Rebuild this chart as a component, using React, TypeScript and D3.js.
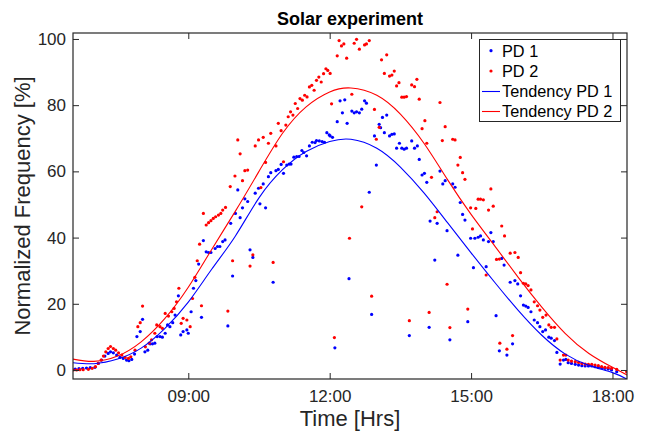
import React, { useEffect, useRef } from "react";
import * as d3 from "d3";

// PD 1 samples: [time of day in hours, normalized frequency %]
const pd1: [number, number][] = [
  [6.6, 0.3], [6.68, 0.4], [6.76, 0.5], [6.84, 0.6], [6.92, 0.7], [7.02, 0.8],
  [7.09, 2.0], [7.16, 3.0], [7.23, 4.2], [7.3, 5.0], [7.35, 5.5], [7.41, 5.2],
  [7.48, 4.5], [7.55, 3.8], [7.62, 3.5], [7.69, 3.0], [7.74, 2.8], [7.8, 3.2],
  [7.86, 4.8], [7.91, 10.1], [7.98, 11.6], [8.03, 15.3], [8.08, 5.5], [8.14, 6.0],
  [8.19, 7.9], [8.24, 7.9], [8.29, 8.1], [8.34, 10.1], [8.4, 10.1], [8.45, 9.9],
  [8.51, 11.1], [8.56, 13.6], [8.61, 13.1], [8.67, 14.3], [8.72, 16.6], [8.79, 22.4],
  [8.84, 10.6], [8.89, 11.6], [8.97, 12.1], [9.0, 11.1], [9.06, 17.6], [9.11, 24.7],
  [9.16, 27.0], [9.22, 32.0], [9.28, 15.9], [9.32, 39.1], [9.38, 35.7], [9.43, 35.5],
  [9.48, 35.5], [9.57, 36.7], [9.62, 37.3], [9.67, 37.3], [9.73, 38.8], [9.78, 39.3],
  [9.84, 13.3], [9.9, 44.3], [9.94, 28.4], [10.0, 47.3], [10.05, 54.4], [10.1, 46.0],
  [10.15, 49.0], [10.2, 51.7], [10.26, 50.9], [10.31, 36.3], [10.37, 34.0], [10.42, 53.4],
  [10.49, 54.9], [10.52, 50.2], [10.59, 56.2], [10.64, 49.0], [10.7, 58.4], [10.75, 59.6],
  [10.8, 26.5], [10.86, 60.2], [10.91, 60.6], [10.97, 62.1], [11.02, 59.4], [11.09, 61.9],
  [11.14, 62.2], [11.18, 62.2], [11.24, 64.3], [11.3, 64.5], [11.35, 64.5], [11.41, 66.3],
  [11.45, 65.7], [11.51, 64.7], [11.57, 67.7], [11.63, 68.8], [11.69, 68.7], [11.72, 69.3],
  [11.78, 69.2], [11.84, 69.0], [11.89, 68.8], [11.94, 71.7], [11.99, 71.0], [12.01, 70.7],
  [12.06, 70.3], [12.11, 6.7], [12.16, 75.0], [12.22, 81.3], [12.27, 77.7], [12.32, 81.6],
  [12.37, 74.5], [12.41, 27.6], [12.47, 78.2], [12.52, 77.7], [12.57, 78.0], [12.63, 77.7],
  [12.68, 78.8], [12.74, 81.3], [12.78, 80.6], [12.84, 53.7], [12.89, 16.8], [12.95, 70.7],
  [12.99, 61.9], [13.05, 74.2], [13.08, 73.2], [13.12, 76.3], [13.16, 71.7], [13.21, 77.0],
  [13.27, 70.7], [13.32, 71.2], [13.37, 71.3], [13.42, 67.0], [13.48, 68.5], [13.53, 67.0],
  [13.58, 66.7], [13.63, 67.0], [13.69, 10.4], [13.74, 69.2], [13.8, 67.0], [13.86, 67.7],
  [13.9, 63.6], [13.96, 58.9], [14.01, 59.4], [14.06, 56.7], [14.11, 12.9], [14.13, 45.0],
  [14.23, 33.2], [14.28, 44.3], [14.34, 60.1], [14.4, 56.2], [14.45, 57.2], [14.49, 42.1],
  [14.55, 9.1], [14.61, 56.2], [14.66, 55.2], [14.72, 34.7], [14.77, 50.6], [14.82, 47.0],
  [14.87, 45.3], [14.93, 14.6], [14.99, 39.8], [15.05, 30.9], [15.08, 39.8], [15.15, 40.1],
  [15.2, 40.5], [15.26, 39.3], [15.32, 31.2], [15.37, 38.8], [15.42, 41.5], [15.47, 38.8],
  [15.53, 16.4], [15.6, 5.8], [15.65, 33.7], [15.7, 31.7], [15.76, 4.5], [15.83, 26.5],
  [15.88, 7.9], [15.93, 27.0], [15.99, 26.0], [16.05, 22.4], [16.11, 19.6], [16.16, 19.3],
  [16.21, 18.9], [16.27, 17.6], [16.34, 15.1], [16.41, 14.3], [16.46, 13.1], [16.52, 11.6],
  [16.58, 12.1], [16.65, 9.9], [16.7, 9.6], [16.77, 8.9], [16.82, 5.3], [16.89, 1.8],
  [16.96, 3.0], [17.01, 3.2], [17.06, 2.2], [17.13, 2.0], [17.21, 1.7], [17.28, 1.5],
  [17.35, 1.3], [17.42, 1.2], [17.49, 1.2], [17.56, 1.2], [17.63, 1.0], [17.7, 0.8],
  [17.77, 0.7], [17.84, 0.5], [17.91, 0.3], [17.98, 0.0], [18.09, -0.5],
];

// PD 2 samples
const pd2: [number, number][] = [
  [6.56, 0.0], [6.63, 0.0], [6.7, 0.1], [6.77, 0.1], [6.88, 0.2], [6.96, 0.5],
  [7.03, 1.0], [7.09, 2.0], [7.15, 3.0], [7.2, 4.2], [7.25, 5.5], [7.3, 6.5],
  [7.35, 7.1], [7.41, 6.5], [7.46, 6.0], [7.52, 5.2], [7.59, 4.5], [7.66, 3.8],
  [7.73, 3.5], [7.78, 4.0], [7.87, 6.0], [7.93, 13.1], [7.98, 14.3], [8.03, 19.3],
  [8.09, 7.0], [8.17, 8.1], [8.22, 9.1], [8.29, 11.1], [8.33, 13.6], [8.4, 13.1],
  [8.45, 12.6], [8.51, 17.1], [8.58, 16.3], [8.65, 17.6], [8.7, 18.6], [8.75, 20.6],
  [8.8, 24.7], [8.85, 14.1], [8.89, 15.6], [8.97, 15.1], [9.04, 13.1], [9.09, 21.6],
  [9.14, 28.0], [9.19, 33.0], [9.24, 38.0], [9.28, 19.4], [9.32, 47.3], [9.38, 43.8],
  [9.43, 44.5], [9.48, 45.1], [9.53, 45.8], [9.58, 46.3], [9.64, 46.8], [9.69, 47.3],
  [9.73, 48.3], [9.79, 49.1], [9.84, 17.8], [9.89, 55.4], [9.94, 33.0], [9.99, 58.6],
  [10.05, 69.5], [10.1, 65.3], [10.15, 57.2], [10.2, 60.2], [10.26, 60.4], [10.31, 31.4],
  [10.37, 34.8], [10.42, 67.7], [10.49, 69.5], [10.54, 55.1], [10.59, 70.3], [10.64, 62.7],
  [10.7, 68.5], [10.75, 71.5], [10.8, 32.5], [10.86, 67.7], [10.91, 74.5], [10.97, 72.3],
  [11.02, 62.9], [11.07, 74.0], [11.12, 76.5], [11.17, 78.0], [11.22, 77.0], [11.27, 80.5],
  [11.32, 79.0], [11.37, 82.0], [11.42, 81.5], [11.47, 83.0], [11.52, 82.5], [11.57, 85.5],
  [11.62, 86.0], [11.67, 84.5], [11.72, 87.5], [11.77, 88.5], [11.82, 87.0], [11.87, 89.5],
  [11.92, 91.0], [11.96, 90.5], [12.01, 89.6], [12.04, 80.4], [12.1, 9.8], [12.16, 94.9],
  [12.2, 99.5], [12.25, 97.9], [12.3, 98.5], [12.36, 94.2], [12.42, 39.8], [12.47, 83.3],
  [12.52, 98.7], [12.57, 99.9], [12.63, 96.9], [12.68, 49.3], [12.74, 98.2], [12.78, 98.5],
  [12.84, 99.5], [12.89, 22.3], [12.95, 78.7], [12.99, 69.7], [13.05, 73.3], [13.1, 93.7],
  [13.16, 89.6], [13.21, 95.2], [13.27, 88.8], [13.32, 89.1], [13.37, 90.3], [13.42, 85.8],
  [13.47, 86.8], [13.53, 82.4], [13.58, 82.4], [13.63, 82.6], [13.69, 14.9], [13.74, 86.1],
  [13.8, 85.6], [13.85, 87.8], [13.9, 81.8], [13.96, 72.9], [14.02, 75.3], [14.06, 68.5],
  [14.11, 17.4], [14.16, 58.2], [14.23, 46.0], [14.28, 47.8], [14.34, 80.8], [14.39, 69.3],
  [14.45, 73.5], [14.49, 25.9], [14.55, 12.8], [14.61, 69.7], [14.66, 69.5], [14.72, 61.9],
  [14.77, 64.2], [14.82, 59.6], [14.87, 57.6], [14.93, 18.4], [14.99, 49.0], [15.03, 42.6],
  [15.1, 48.8], [15.15, 51.6], [15.2, 51.6], [15.26, 51.4], [15.32, 28.7], [15.37, 48.3],
  [15.42, 54.7], [15.47, 49.5], [15.54, 33.4], [15.6, 33.5], [15.61, 8.1], [15.65, 43.5],
  [15.71, 40.5], [15.76, 6.3], [15.83, 35.3], [15.88, 10.4], [15.93, 35.5], [16.0, 34.0],
  [16.05, 29.4], [16.11, 26.2], [16.16, 26.0], [16.21, 25.5], [16.27, 24.2], [16.34, 20.6],
  [16.41, 19.4], [16.46, 18.1], [16.52, 15.9], [16.59, 16.6], [16.65, 13.6], [16.7, 12.9],
  [16.77, 12.9], [16.82, 9.4], [16.89, 3.0], [16.96, 4.5], [17.01, 4.5], [17.06, 3.0],
  [17.13, 2.7], [17.21, 2.5], [17.28, 2.3], [17.35, 2.0], [17.42, 1.8], [17.49, 1.7],
  [17.56, 1.7], [17.63, 1.5], [17.7, 1.3], [17.77, 1.0], [17.84, 0.8], [17.91, 0.7],
  [17.98, 0.5], [18.09, 0.2], [18.3, -0.5],
];

// fitted tendency curves
const tendencyHours = [6.55, 7.0, 7.5, 8.0, 8.5, 9.0, 9.5, 10.0, 10.5, 11.0, 11.5, 12.0, 12.45,
  13.0, 13.5, 14.0, 14.5, 15.0, 15.5, 16.0, 16.5, 17.0, 17.5, 18.0, 18.31];
const tendency1 = [2.2, 1.9, 3.3, 6.6, 12.5, 20.5, 30.5, 40.5, 52.0, 60.5, 66.0, 69.0, 69.7,
  67.0, 61.3, 53.5, 44.5, 35.4, 26.5, 18.0, 10.5, 4.8, 1.4, -0.8, -2.8];
const tendency2 = [3.3, 2.6, 4.2, 8.5, 15.5, 25.0, 36.5, 48.0, 60.0, 71.5, 79.5, 84.0, 85.2,
  83.0, 77.3, 68.5, 57.5, 47.0, 37.5, 28.0, 19.0, 11.0, 5.0, 0.8, -1.5];

const xTicks = [9, 12, 15, 18];
const xTickLabels = ["09:00", "12:00", "15:00", "18:00"];
const yTicks = [0, 20, 40, 60, 80, 100];
const legendLabels = ["PD 1", "PD 2", "Tendency PD 1", "Tendency PD 2"];

const W = 648;
const H = 433;
const FONT = "'Liberation Sans', Arial, Helvetica, sans-serif";
const INK = "#262626";
const BLUE = "#0000ff";
const RED = "#ff0000";

const SolarChart = () => {
  const ref = useRef<SVGSVGElement>(null);

  useEffect(() => {
    const svg = d3.select(ref.current);
    svg.selectAll("*").remove();

    const left = 73, right = 627, top = 33, bottom = 379;

    const x = d3.scaleLinear().domain([6.554, 18.308]).range([left, right]);
    const y = d3.scaleLinear().domain([-2.72, 101.8]).range([bottom, top]);

    svg.append("rect").attr("width", W).attr("height", H).attr("fill", "#fff");

    svg.append("defs").append("clipPath").attr("id", "plot-clip")
      .append("rect").attr("x", left).attr("y", top)
      .attr("width", right - left).attr("height", bottom - top);

    const plot = svg.append("g").attr("clip-path", "url(#plot-clip)");

    // scatter
    plot.append("g").selectAll("circle").data(pd1).enter().append("circle")
      .attr("cx", (d) => x(d[0])).attr("cy", (d) => y(d[1]))
      .attr("r", 1.6).attr("fill", BLUE);
    plot.append("g").selectAll("circle").data(pd2).enter().append("circle")
      .attr("cx", (d) => x(d[0])).attr("cy", (d) => y(d[1]))
      .attr("r", 1.6).attr("fill", RED);

    // tendency lines
    const line = d3.line<number>()
      .x((_, i) => x(tendencyHours[i]))
      .y((d) => y(d))
      .curve(d3.curveNatural);
    plot.append("path").datum(tendency1).attr("d", line)
      .attr("fill", "none").attr("stroke", BLUE).attr("stroke-width", 1.1);
    plot.append("path").datum(tendency2).attr("d", line)
      .attr("fill", "none").attr("stroke", RED).attr("stroke-width", 1.1);

    // axes, ticks pointing inward on all four sides
    const styleAxis = (g: any) => {
      g.select(".domain").remove();
      g.selectAll("line").attr("stroke", INK);
      g.selectAll("text").attr("fill", INK).attr("font-family", FONT).attr("font-size", 17);
    };

    svg.append("g").attr("transform", `translate(0,${bottom})`)
      .call(d3.axisBottom(x).tickValues(xTicks)
        .tickFormat((_, i) => xTickLabels[i]).tickSizeInner(-6).tickSizeOuter(0).tickPadding(11))
      .call(styleAxis);
    svg.append("g").attr("transform", `translate(0,${top})`)
      .call(d3.axisTop(x).tickValues(xTicks).tickFormat(() => "").tickSizeInner(-6).tickSizeOuter(0))
      .call(styleAxis);
    svg.append("g").attr("transform", `translate(${left},0)`)
      .call(d3.axisLeft(y).tickValues(yTicks).tickSizeInner(-6).tickSizeOuter(0).tickPadding(7))
      .call(styleAxis);
    svg.append("g").attr("transform", `translate(${right},0)`)
      .call(d3.axisRight(y).tickValues(yTicks).tickFormat(() => "").tickSizeInner(-6).tickSizeOuter(0))
      .call(styleAxis);

    svg.append("rect").attr("x", left).attr("y", top)
      .attr("width", right - left).attr("height", bottom - top)
      .attr("fill", "none").attr("stroke", INK).attr("stroke-width", 1.2);

    // titles
    svg.append("text").attr("x", (left + right) / 2).attr("y", 25)
      .attr("text-anchor", "middle").attr("font-family", FONT).attr("font-weight", "bold")
      .attr("font-size", 18).attr("fill", "#000").text("Solar experiment");
    svg.append("text").attr("x", (left + right) / 2).attr("y", 426)
      .attr("text-anchor", "middle").attr("font-family", FONT)
      .attr("font-size", 22).attr("fill", INK).text("Time [Hrs]");
    svg.append("text").attr("transform", `translate(30,${(top + bottom) / 2}) rotate(-90)`)
      .attr("text-anchor", "middle").attr("font-family", FONT)
      .attr("font-size", 22).attr("fill", INK).text("Normalized Frequency [%]");

    // legend
    const lg = svg.append("g");
    lg.append("rect").attr("x", 479.5).attr("y", 39.5).attr("width", 141).attr("height", 82)
      .attr("fill", "#fff").attr("stroke", INK).attr("stroke-width", 1);
    const rowY = [50.7, 71, 91.5, 111.5];
    const colors = [BLUE, RED, BLUE, RED];
    legendLabels.forEach((label, i) => {
      if (i < 2) {
        lg.append("circle").attr("cx", 491).attr("cy", rowY[i]).attr("r", 1.6).attr("fill", colors[i]);
      } else {
        lg.append("line").attr("x1", 482).attr("x2", 500).attr("y1", rowY[i]).attr("y2", rowY[i])
          .attr("stroke", colors[i]).attr("stroke-width", 1.1);
      }
      lg.append("text").attr("x", 502).attr("y", rowY[i]).attr("dy", "0.36em")
        .attr("font-family", FONT).attr("font-size", 16.3).attr("fill", "#000").text(label);
    });
  }, []);

  return (
    <svg ref={ref} width={W} height={H}
      style={{ position: "absolute", left: 0, top: 0, display: "block" }} />
  );
};

export default function App() {
  return <SolarChart />;
}
